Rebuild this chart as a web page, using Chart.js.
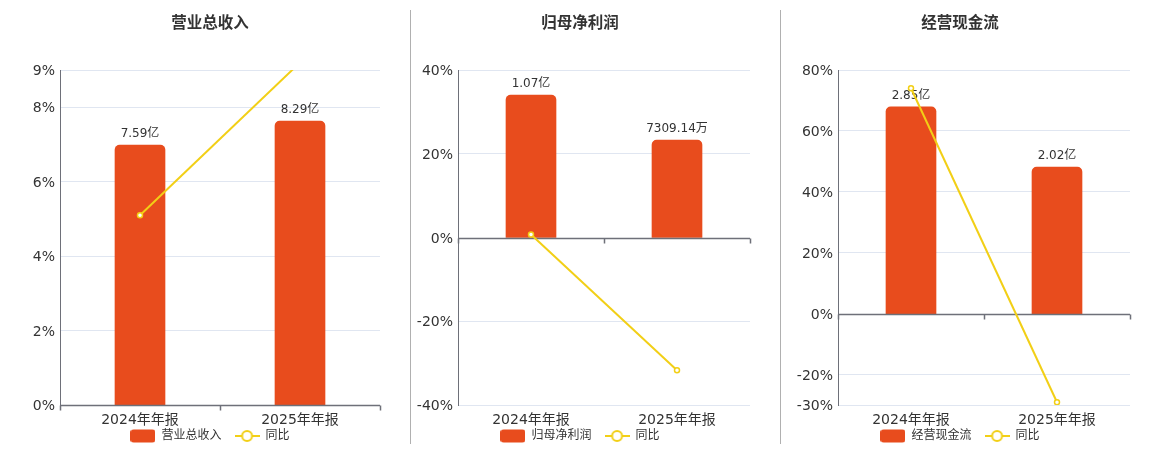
<!DOCTYPE html>
<html>
<head>
<meta charset="utf-8">
<script src="https://cdn.jsdelivr.net/npm/chart.js@4/dist/chart.umd.min.js"></script>
<style>
    body { margin: 0; background: #fff; }
    #wrap { position: relative; width: 1160px; height: 450px; overflow: hidden; }
    .panel { position: absolute; top: 0; height: 462px; }
    .divider { position: absolute; top: 10px; width: 1px; height: 434px; background: #b0b0b0; }
</style>
</head>
<body>
<div id="wrap">
    <div class="panel" style="left:20px;width:380px"><canvas id="c1"></canvas></div>
    <div class="panel" style="left:400px;width:360px"><canvas id="c2"></canvas></div>
    <div class="panel" style="left:780px;width:360px"><canvas id="c3"></canvas></div>
    <div class="divider" style="left:410px"></div>
    <div class="divider" style="left:780px"></div>
</div>
<script>
// Data
const categories = ['2024年年报', '2025年年报'];

const revenueValues = [7.59, 8.29];          // 亿
const revenueLabels = ['7.59亿', '8.29亿'];
const revenueYoy = [5.1, 9.2];               // %
const revenueTicks = [0, 2, 4, 6, 8, 9];

const profitValues = [1.07, 0.730914];       // 亿
const profitLabels = ['1.07亿', '7309.14万'];
const profitYoy = [0.7, -31.7];
const profitTicks = [-40, -20, 0, 20, 40];

const cashValues = [2.85, 2.02];             // 亿
const cashLabels = ['2.85亿', '2.02亿'];
const cashYoy = [74, -29.1];
const cashTicks = [-30, -20, 0, 20, 40, 60, 80];

// hidden value axis ranges, chosen so bar zero sits on the 0% line
const revenueBarRange = [0, 9.78];
const profitBarRange = [-1.258, 1.258];
const cashBarRange = [-1.259, 3.357];

const BAR_COLOR = '#e84c1d';
const LINE_COLOR = '#f2cf16';
const FONT = "'DejaVu Sans', 'Noto Sans CJK SC', sans-serif";

// Legend icons
function makeBarIcon() {
    const c = document.createElement('canvas');
    c.width = 25; c.height = 14;
    const ctx = c.getContext('2d');
    ctx.fillStyle = BAR_COLOR;
    ctx.beginPath();
    ctx.roundRect(0, 0.5, 25, 13, 3);
    ctx.fill();
    return c;
}
function makeLineIcon() {
    const c = document.createElement('canvas');
    c.width = 25; c.height = 14;
    const ctx = c.getContext('2d');
    ctx.strokeStyle = LINE_COLOR;
    ctx.lineWidth = 2;
    ctx.beginPath();
    ctx.moveTo(0, 7); ctx.lineTo(25, 7);
    ctx.stroke();
    ctx.fillStyle = '#fff';
    ctx.beginPath();
    ctx.arc(12.5, 7, 5, 0, Math.PI * 2);
    ctx.fill();
    ctx.stroke();
    return c;
}
const barIcon = makeBarIcon();
const lineIcon = makeLineIcon();

// Draws the category axis on the 0% line, plus bar value labels
const barExtras = {
    id: 'barExtras',
    afterLayout(chart) {
        // pull the legend up under the category labels
        chart.legend.top -= 10;
        chart.legend.bottom -= 10;
    },
    afterDatasetDraw(chart, args) {
        if (args.index !== 0) return;
        const ctx = chart.ctx;
        const y = chart.scales.y;
        const area = chart.chartArea;
        const y0 = Math.round(y.getPixelForValue(0)) + 0.5;
        ctx.save();
        ctx.strokeStyle = '#6e7079';
        ctx.lineWidth = 1.5;
        ctx.beginPath();
        ctx.moveTo(area.left, y0);
        ctx.lineTo(area.right, y0);
        const step = (area.right - area.left) / categories.length;
        for (let i = 0; i <= categories.length; i++) {
            const px = Math.round(area.left + step * i) + 0.5;
            ctx.moveTo(px, y0);
            ctx.lineTo(px, y0 + 5);
        }
        ctx.stroke();

        const labels = chart.options.plugins.barExtras.labels;
        ctx.fillStyle = '#333';
        ctx.font = '12px ' + FONT;
        ctx.textAlign = 'center';
        ctx.textBaseline = 'bottom';
        args.meta.data.forEach((bar, i) => {
            ctx.fillText(labels[i], bar.x, bar.y - 5);
        });
        ctx.restore();
    }
};

function buildChart(id, title, barName, values, labels, yoy, ticks, barRange, axisWidth, rightWidth) {
    return new Chart(document.getElementById(id).getContext('2d'), {
        type: 'bar',
        data: {
            labels: categories,
            datasets: [{
                type: 'bar',
                label: barName,
                data: values,
                yAxisID: 'yb',
                backgroundColor: BAR_COLOR,
                borderRadius: 5,
                barThickness: 50,
                order: 2
            }, {
                type: 'line',
                label: '同比',
                data: yoy,
                yAxisID: 'y',
                borderColor: LINE_COLOR,
                borderWidth: 2,
                pointRadius: 2.5,
                pointBorderWidth: 1.5,
                pointBackgroundColor: '#fff',
                pointBorderColor: LINE_COLOR,
                order: 1
            }]
        },
        options: {
            responsive: true,
            maintainAspectRatio: false,
            animation: false,
            layout: { padding: 0 },
            scales: {
                x: {
                    offset: true,
                    grid: { display: false, drawTicks: false },
                    border: { display: false },
                    ticks: { color: '#333', font: { size: 14, family: FONT, lineHeight: 1 }, padding: 8 },
                    afterFit: s => { s.height = 22; }
                },
                y: {
                    position: 'left',
                    min: ticks[0],
                    max: ticks[ticks.length - 1],
                    afterBuildTicks: s => { s.ticks = ticks.map(v => ({ value: v })); },
                    grid: {
                        drawTicks: false,
                        color: c => (c.tick && c.tick.value === 0) ? 'rgba(0,0,0,0)' : '#e0e6f1'
                    },
                    border: { display: true, color: '#6e7079', width: 1 },
                    ticks: {
                        color: '#333',
                        font: { size: 14, family: FONT },
                        padding: 5,
                        labelOffset: 1.5,
                        callback: v => v + '%'
                    },
                    afterFit: s => { s.width = axisWidth; }
                },
                yb: {
                    position: 'right',
                    min: barRange[0],
                    max: barRange[1],
                    grid: { display: false },
                    border: { display: false },
                    ticks: { display: false },
                    afterFit: s => { s.width = rightWidth; }
                }
            },
            plugins: {
                title: {
                    display: true,
                    text: title,
                    color: '#333',
                    font: { size: 15.5, weight: 'bold', family: FONT, lineHeight: 1.2 },
                    padding: { top: 15, bottom: 36.4 }
                },
                legend: {
                    position: 'bottom',
                    labels: {
                        usePointStyle: true,
                        pointStyleWidth: 25,
                        padding: 13,
                        color: '#333',
                        font: { size: 12, family: FONT },
                        generateLabels: chart => chart.data.datasets.map((ds, i) => ({
                            text: ds.label,
                            pointStyle: i === 0 ? barIcon : lineIcon,
                            datasetIndex: i,
                            fontColor: '#333',
                            hidden: false,
                            lineWidth: 0
                        }))
                    }
                },
                tooltip: { enabled: false },
                barExtras: { labels: labels }
            }
        },
        plugins: [barExtras]
    });
}

buildChart('c1', '营业总收入', '营业总收入', revenueValues, revenueLabels, revenueYoy, revenueTicks, revenueBarRange, 40, 20);
buildChart('c2', '归母净利润', '归母净利润', profitValues, profitLabels, profitYoy, profitTicks, profitBarRange, 58, 10);
buildChart('c3', '经营现金流', '经营现金流', cashValues, cashLabels, cashYoy, cashTicks, cashBarRange, 58, 10);
</script>
</body>
</html>
